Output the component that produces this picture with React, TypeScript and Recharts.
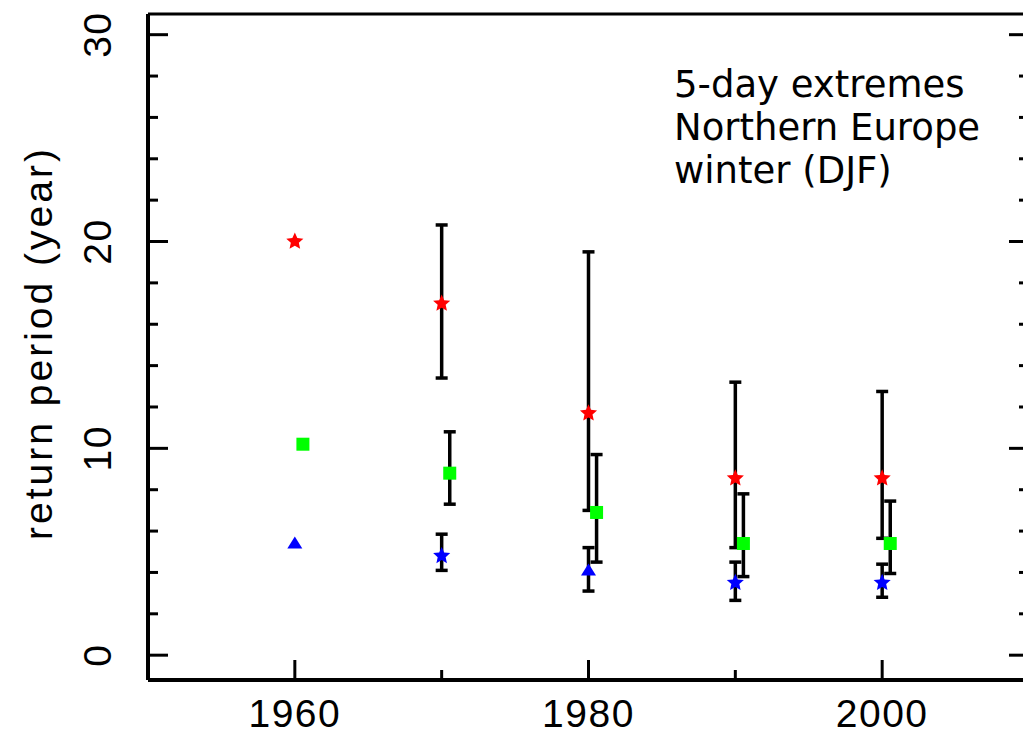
import { ScatterChart, Scatter, XAxis, YAxis, ErrorBar } from "recharts";

// decades, with the green series nudged half a year to the right
const years = [1960, 1970, 1980, 1990, 2000];
const greenYears = [1960.55, 1970.55, 1980.55, 1990.55, 2000.55];

const redValues = [20.0, 17.0, 11.7, 8.55, 8.55];
const redLow = [null, 13.4, 7.0, 5.2, 5.65];
const redHigh = [null, 20.8, 19.5, 13.2, 12.75];

const greenValues = [10.2, 8.8, 6.9, 5.4, 5.4];
const greenLow = [null, 7.3, 4.5, 3.8, 3.95];
const greenHigh = [null, 10.8, 9.7, 7.8, 7.45];

const blueValues = [5.4, 4.8, 4.1, 3.5, 3.5];
const blueLow = [null, 4.1, 3.1, 2.65, 2.8];
const blueHigh = [null, 5.85, 5.2, 4.5, 4.4];
const blueTriangleYears = [1960, 1980];

const yTicks = [0, 2, 4, 6, 8, 10, 12, 14, 16, 18, 20, 22, 24, 26, 28, 30];
const yLabelled = [0, 10, 20, 30];
const xTicks = [1960, 1970, 1980, 1990, 2000];
const xLabelled = [1960, 1980, 2000];

const annotation = ["5-day extremes", "Northern Europe", "winter (DJF)"];
const yTitle = "return period (year)";

const X_DOMAIN = [1950, 2010];
const Y_DOMAIN = [-1.2, 31];

type Row = { x: number; y: number; err?: [number, number] };

const buildRows = (
  xs: number[],
  vals: number[],
  lows: (number | null)[],
  highs: (number | null)[]
): Row[] =>
  xs.map((x, i) => {
    const lo = lows[i];
    const hi = highs[i];
    const row: Row = { x, y: vals[i] };
    if (lo != null && hi != null) row.err = [vals[i] - lo, hi - vals[i]];
    return row;
  });

const redRows = buildRows(years, redValues, redLow, redHigh);
const greenRows = buildRows(greenYears, greenValues, greenLow, greenHigh);
const blueRows = buildRows(years, blueValues, blueLow, blueHigh);
const blueTriRows = blueRows.filter((r) => blueTriangleYears.includes(r.x));
const blueStarRows = blueRows.filter((r) => !blueTriangleYears.includes(r.x));

const TICK_FONT = "'Liberation Sans', Arial, sans-serif";

function starPoints(cx: number, cy: number, R: number, r: number) {
  const pts: string[] = [];
  for (let i = 0; i < 10; i++) {
    const rad = i % 2 === 0 ? R : r;
    const a = -Math.PI / 2 + (i * Math.PI) / 5;
    pts.push(`${cx + rad * Math.cos(a)},${cy + rad * Math.sin(a)}`);
  }
  return pts.join(" ");
}

const makeStar = (fill: string) => (p: any) =>
  <polygon points={starPoints(p.cx, p.cy, 9, 4.2)} fill={fill} />;

const GreenSquare = (p: any) => (
  <rect x={p.cx - 6.5} y={p.cy - 6.5} width={13} height={13} fill="#00ff00" />
);

const BlueTriangle = (p: any) => (
  <polygon
    points={`${p.cx},${p.cy - 7} ${p.cx + 7.5},${p.cy + 5} ${p.cx - 7.5},${p.cy + 5}`}
    fill="#0000ff"
  />
);

const Nothing = () => <g />;

const LeftTick = ({ x, y, payload }: any) => {
  const major = yLabelled.includes(payload.value);
  return (
    <g>
      <line x1={x} x2={x + (major ? 20 : 10)} y1={y} y2={y} stroke="#000" strokeWidth={3} />
      {major && (
        <text
          transform={`translate(${x - 37},${y}) rotate(-90)`}
          textAnchor="middle"
          fontFamily={TICK_FONT}
          fontSize={39}
          letterSpacing={1.5}
          fill="#000"
        >
          {payload.value}
        </text>
      )}
    </g>
  );
};

const RightTick = ({ x, y, payload }: any) => {
  const major = yLabelled.includes(payload.value);
  return <line x1={x} x2={x - (major ? 20 : 10)} y1={y} y2={y} stroke="#000" strokeWidth={3} />;
};

const BottomTick = ({ x, y, payload }: any) => {
  const major = xLabelled.includes(payload.value);
  return (
    <g>
      <line x1={x} x2={x} y1={y} y2={y - (major ? 20 : 10)} stroke="#000" strokeWidth={3} />
      {major && (
        <text
          x={x}
          y={y + 47}
          textAnchor="middle"
          fontFamily={TICK_FONT}
          fontSize={39}
          letterSpacing={1.5}
          fill="#000"
        >
          {payload.value}
        </text>
      )}
    </g>
  );
};

const YTitle = ({ viewBox }: any) => {
  const cy = viewBox.y + viewBox.height / 2 - 4;
  return (
    <text
      transform={`translate(${viewBox.x + 52},${cy}) rotate(-90)`}
      textAnchor="middle"
      fontFamily={TICK_FONT}
      fontSize={39}
      letterSpacing={3}
      fill="#000"
    >
      {yTitle}
    </text>
  );
};

const axisLine = { stroke: "#000", strokeWidth: 4 };
const frameLine = { stroke: "#000", strokeWidth: 3 };

const errProps = {
  dataKey: "err",
  direction: "y" as const,
  width: 6,
  strokeWidth: 3.5,
  stroke: "#000",
  isAnimationActive: false,
};

export default function App() {
  return (
    <div
      style={{
        position: "absolute",
        left: 0,
        top: 0,
        width: 1023,
        height: 734,
        overflow: "hidden",
        background: "#fff",
      }}
    >
      <ScatterChart width={1040} height={734} margin={{ top: 13, right: 10, bottom: 0, left: 0 }}>
        <XAxis
          dataKey="x"
          type="number"
          domain={X_DOMAIN}
          ticks={xTicks}
          interval={0}
          height={54}
          tickSize={0}
          tickMargin={0}
          tickLine={false}
          tick={<BottomTick />}
          axisLine={axisLine}
          allowDataOverflow
        />
        <XAxis
          xAxisId="top"
          orientation="top"
          dataKey="x"
          type="number"
          domain={X_DOMAIN}
          height={1}
          tick={false}
          tickLine={false}
          axisLine={frameLine}
          allowDataOverflow
        />
        <YAxis
          dataKey="y"
          type="number"
          domain={Y_DOMAIN}
          ticks={yTicks}
          interval={0}
          width={148}
          tickSize={0}
          tickMargin={0}
          tickLine={false}
          tick={<LeftTick />}
          axisLine={axisLine}
          label={<YTitle />}
          allowDataOverflow
        />
        <YAxis
          yAxisId="right"
          orientation="right"
          dataKey="y"
          type="number"
          domain={Y_DOMAIN}
          ticks={yTicks}
          interval={0}
          width={1}
          tickSize={0}
          tickMargin={0}
          tickLine={false}
          tick={<RightTick />}
          axisLine={frameLine}
          allowDataOverflow
        />
        {/* invisible copy so the top/right frame axes get rendered */}
        <Scatter
          data={redRows}
          xAxisId="top"
          yAxisId="right"
          shape={Nothing}
          legendType="none"
          isAnimationActive={false}
        />
        <Scatter data={redRows} shape={makeStar("#ff0000")} isAnimationActive={false}>
          <ErrorBar {...errProps} />
        </Scatter>
        <Scatter data={greenRows} shape={GreenSquare} isAnimationActive={false}>
          <ErrorBar {...errProps} />
        </Scatter>
        <Scatter data={blueTriRows} shape={BlueTriangle} isAnimationActive={false}>
          <ErrorBar {...errProps} />
        </Scatter>
        <Scatter data={blueStarRows} shape={makeStar("#0000ff")} isAnimationActive={false}>
          <ErrorBar {...errProps} />
        </Scatter>
      </ScatterChart>
      <div
        style={{
          position: "absolute",
          left: 674,
          top: 63,
          fontFamily: "'DejaVu Sans', Verdana, sans-serif",
          fontSize: 37,
          lineHeight: "43px",
          color: "#000",
          whiteSpace: "nowrap",
        }}
      >
        {annotation.map((line) => (
          <div key={line}>{line}</div>
        ))}
      </div>
    </div>
  );
}
